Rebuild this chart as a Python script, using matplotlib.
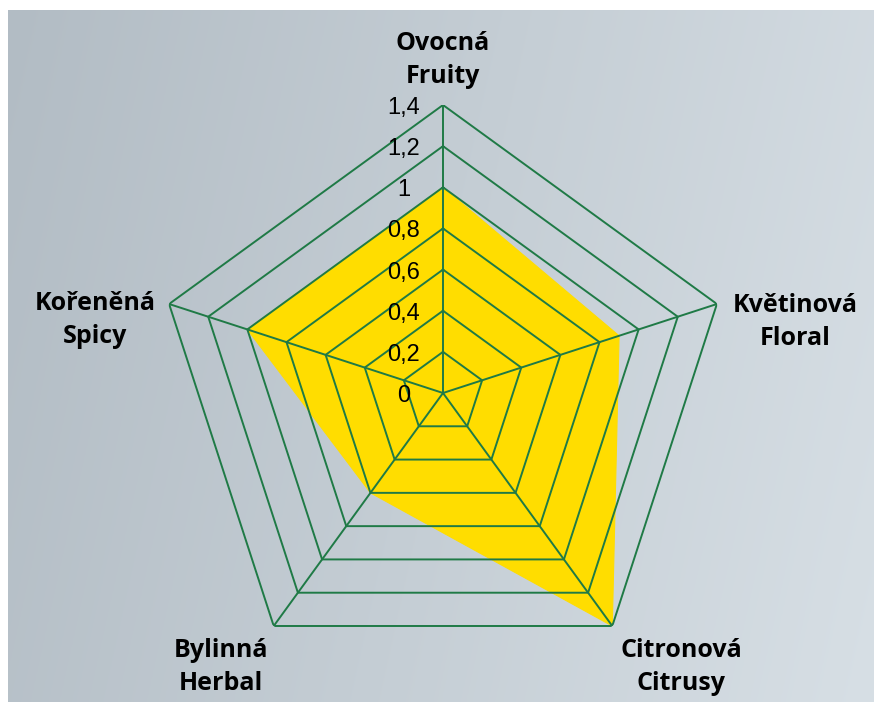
import numpy as np
import matplotlib
matplotlib.use("Agg")
import matplotlib.pyplot as plt

# ---- data ----
categories = ["Ovocná\nFruity", "Květinová\nFloral", "Citronová\nCitrusy",
              "Bylinná\nHerbal", "Kořeněná\nSpicy"]
values = [1.0, 0.9, 1.4, 0.6, 1.0]
ring_values = [0.2, 0.4, 0.6, 0.8, 1.0, 1.2, 1.4]
tick_values = [0, 0.2, 0.4, 0.6, 0.8, 1.0, 1.2, 1.4]
tick_labels = ["0", "0,2", "0,4", "0,6", "0,8", "1", "1,2", "1,4"]

# ---- style / layout ----
W, H, DPI = 874, 702, 100
GREEN = "#1f7a46"
YELLOW = "#ffdd00"
label_offsets = [(0, 45), (78, -18), (69, -41), (-53, -41), (-74, -16)]

fig = plt.figure(figsize=(W / DPI, H / DPI), dpi=DPI, facecolor="white")

# background gradient
bg = fig.add_axes([8 / W, 0, (W - 8) / W, (H - 10) / H])
gx = np.linspace(0, 1, 400)
gy = np.linspace(0, 1, 300)
GX, GY = np.meshgrid(gx, gy)
t = np.clip(0.85 * GX + 0.15 * GY, 0, 1)
c0 = np.array([0xb2, 0xbc, 0xc4]) / 255
c1 = np.array([0xd7, 0xdf, 0xe5]) / 255
img = c0[None, None, :] * (1 - t[..., None]) + c1[None, None, :] * t[..., None]
bg.imshow(img, aspect="auto", extent=[0, 1, 0, 1])
bg.set_axis_off()

cx, cy, R = 443, 393, 288
ax = fig.add_axes([(cx - R) / W, (H - cy - R) / H, 2 * R / W, 2 * R / H],
                  projection="polar")
ax.patch.set_alpha(0)
ax.set_theta_offset(np.pi / 2)
ax.set_theta_direction(-1)
ax.set_ylim(0, 1.4)
ax.grid(False)
ax.spines["polar"].set_visible(False)
ax.set_xticks([])
ax.set_yticks([])

n = len(categories)
angles = np.linspace(0, 2 * np.pi, n, endpoint=False)
closed = np.append(angles, angles[0])

ax.fill(closed, values + values[:1], color=YELLOW, lw=0.8, ec=YELLOW, zorder=2)

for r in ring_values:
    ax.plot(closed, [r] * (n + 1), color=GREEN, lw=1.4, zorder=3)
for a in angles:
    ax.plot([a, a], [0, 1.4], color=GREEN, lw=1.4, zorder=3)

for v, lab in zip(tick_values, tick_labels):
    ax.annotate(lab, xy=(0, v), xytext=(-39, -3), textcoords="offset pixels",
                ha="center", va="center", fontsize=17,
                family="Liberation Sans", color="black", zorder=4)

for a, lab, off in zip(angles, categories, label_offsets):
    ax.annotate(lab, xy=(a, 1.4), xytext=off, textcoords="offset pixels",
                ha="center", va="center", fontsize=18, fontweight="bold",
                family="Open Sans", linespacing=1.42, color="black",
                annotation_clip=False)

fig.savefig("out.png", dpi=DPI)
